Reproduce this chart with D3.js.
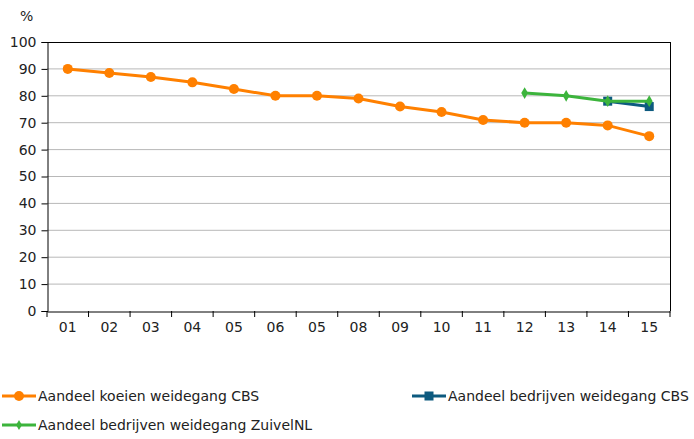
<!DOCTYPE html>
<html><head><meta charset="utf-8">
<script src="https://cdn.jsdelivr.net/npm/d3@7"></script>
<style>body{margin:0;background:#fff}svg{display:block}text{font-family:"DejaVu Sans",Verdana,sans-serif;fill:#222}</style>
</head><body>
<script>
const categories = ["01","02","03","04","05","06","05","08","09","10","11","12","13","14","15"];
const koeienCBS = [90,88.5,87,85,82.5,80,80,79,76,74,71,70,70,69,65];
const bedrijvenCBS = [null,null,null,null,null,null,null,null,null,null,null,null,null,78,76];
const bedrijvenZuivel = [null,null,null,null,null,null,null,null,null,null,null,81,80,78,78];
const yTicks = [0,10,20,30,40,50,60,70,80,90,100];

const W=694,H=439, L=47, R=670, T=42, B=311;
const FS="14px";
const svg=d3.select("body").append("svg").attr("width",W).attr("height",H);
const x=d3.scaleBand().domain(d3.range(categories.length)).range([L,R]);
const y=d3.scaleLinear().domain([0,100]).range([B,T]);

svg.append("g").selectAll("line").data(yTicks.filter(d=>d>0&&d<100)).join("line")
 .attr("x1",L).attr("x2",R).attr("y1",d=>y(d)).attr("y2",d=>y(d)).attr("stroke","#b8b8b8").attr("stroke-width",1);
svg.append("line").attr("x1",L).attr("x2",R).attr("y1",T+0.5).attr("y2",T+0.5).attr("stroke","#000");
svg.append("line").attr("x1",R+0.5).attr("x2",R+0.5).attr("y1",T).attr("y2",B).attr("stroke","#000");

const ya=svg.append("g").attr("transform",`translate(${L+0.5},0)`).call(d3.axisLeft(y).tickValues(yTicks).tickSize(6).tickPadding(5));
ya.select(".domain").attr("stroke","#000");
ya.selectAll("text").style("font-size",FS);
const xa=svg.append("g").attr("transform",`translate(0,${B+0.5})`).call(d3.axisBottom(x).tickFormat(i=>categories[i]).tickSize(0).tickPadding(11));
xa.select(".domain").attr("stroke","#000");
xa.selectAll("text").style("font-size",FS);
svg.append("g").selectAll("line").data(d3.range(categories.length+1)).join("line")
 .attr("x1",i=>i<categories.length?x(i):R).attr("x2",i=>i<categories.length?x(i):R)
 .attr("y1",B).attr("y2",B+6).attr("stroke","#000");

svg.append("text").attr("x",20).attr("y",21).style("font-size",FS).text("%");

const cx=i=>x(i)+x.bandwidth()/2;
function series(vals,color){
  const pts=vals.map((v,i)=>({i,v})).filter(d=>d.v!=null);
  svg.append("path").datum(pts).attr("fill","none").attr("stroke",color).attr("stroke-width",3)
   .attr("d",d3.line().x(d=>cx(d.i)).y(d=>y(d.v)));
  return pts;
}
const OR="#ff8000", BL="#0d5a7f", GR="#3cb43c";
const o=series(koeienCBS,OR);
svg.append("g").selectAll("circle").data(o).join("circle").attr("cx",d=>cx(d.i)).attr("cy",d=>y(d.v)).attr("r",5).attr("fill",OR);
const b=series(bedrijvenCBS,BL);
svg.append("g").selectAll("rect").data(b).join("rect").attr("x",d=>cx(d.i)-4.5).attr("y",d=>y(d.v)-4.5).attr("width",9).attr("height",9).attr("fill",BL);
const g=series(bedrijvenZuivel,GR);
svg.append("g").selectAll("path.d").data(g).join("path").attr("transform",d=>`translate(${cx(d.i)},${y(d.v)})`)
 .attr("d",d3.symbol(d3.symbolDiamond,40)()).attr("fill",GR);

const leg=[{t:"Aandeel koeien weidegang CBS",c:OR,s:"c",x:2,y:396},
 {t:"Aandeel bedrijven weidegang CBS",c:BL,s:"r",x:412,y:396},
 {t:"Aandeel bedrijven weidegang ZuivelNL",c:GR,s:"d",x:2,y:425}];
leg.forEach(l=>{
  const gg=svg.append("g").attr("transform",`translate(${l.x},${l.y})`);
  gg.append("line").attr("x1",0).attr("x2",34).attr("stroke",l.c).attr("stroke-width",3);
  if(l.s=="c") gg.append("circle").attr("cx",17).attr("r",5).attr("fill",l.c);
  if(l.s=="r") gg.append("rect").attr("x",12.5).attr("y",-4.5).attr("width",9).attr("height",9).attr("fill",l.c);
  if(l.s=="d") gg.append("path").attr("transform","translate(17,0)").attr("d",d3.symbol(d3.symbolDiamond,30)()).attr("fill",l.c);
  gg.append("text").attr("x",36).attr("y",5).style("font-size",FS).text(l.t);
});
</script>
</body></html>
